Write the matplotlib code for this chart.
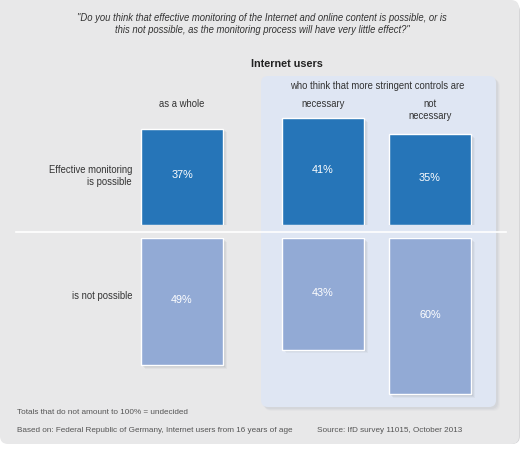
import matplotlib
matplotlib.use("Agg")
import matplotlib.pyplot as plt
from matplotlib.patches import FancyBboxPatch, Rectangle

plt.rcParams["font.family"] = ["Liberation Sans", "DejaVu Sans"]

# data
groups = ["as a whole", "necessary", "not\nnecessary"]
possible = [37, 41, 35]
not_possible = [49, 43, 60]
row_labels = ["Effective monitoring\nis possible", "is not possible"]
question = ('"Do you think that effective monitoring of the Internet and online content is possible, or is\n'
            'this not possible, as the monitoring process will have very little effect?"')
footnote = "Totals that do not amount to 100% = undecided"
basis = "Based on: Federal Republic of Germany, Internet users from 16 years of age"
source = "Source: IfD survey 11015, October 2013"

W, H = 525, 450
BG = "#e8e8e9"
PANEL = "#dfe6f3"
DARK = "#2675b8"
LIGHT = "#92aad5"
TXT = "#333333"
GREY_TXT = "#555555"
FS = 6.85
PX_PER_PCT = 2.6
centers = [182, 323, 430]
bar_w = 82
top_base, bot_base = 225, 238

fig = plt.figure(figsize=(W / 100, H / 100), dpi=100, facecolor="white")
bg = fig.add_axes([0, 0, 1, 1])
bg.set_xlim(0, W)
bg.set_ylim(H, 0)
bg.axis("off")

# card with rounded corners (top-left square)
bg.add_patch(FancyBboxPatch((3, 3), 517, 441, boxstyle="round,pad=0,rounding_size=8",
                            fc="#d6d6d8", ec="none"))
bg.add_patch(FancyBboxPatch((0, 0), 519, 444, boxstyle="round,pad=0,rounding_size=8",
                            fc=BG, ec="none"))
bg.add_patch(Rectangle((0, 0), 30, 30, fc=BG, ec="none"))

# shaded panel with shadow
for off, a in [(4, 0.10), (3, 0.15), (2, 0.2)]:
    bg.add_patch(FancyBboxPatch((261 + off, 76 + off), 235, 331,
                                boxstyle="round,pad=0,rounding_size=7",
                                fc="#b8bcc4", ec="none", alpha=a))
bg.add_patch(FancyBboxPatch((261, 76), 235, 331, boxstyle="round,pad=0,rounding_size=7",
                            fc=PANEL, ec="none"))

# divider
bg.plot([16, 506], [232, 232], color="white", lw=1.2)

# texts
bg.text(262, 24, question, ha="center", va="center", style="italic", fontsize=FS,
        color=TXT, linespacing=1.3)
bg.text(287, 64, "Internet users", ha="center", va="center", fontweight="bold",
        fontsize=7.8, color="#222222")
bg.text(377, 86, "who think that more stringent controls are", ha="center", va="center",
        fontsize=FS, color=TXT)
for cx, g in zip(centers, groups):
    if "\n" in g:
        bg.text(cx, 99, g, ha="center", va="top", fontsize=FS, color=TXT, linespacing=1.2)
    else:
        bg.text(cx, 104, g, ha="center", va="center", fontsize=FS, color=TXT)
bg.text(132, 176, row_labels[0], ha="right", va="center", fontsize=FS, color=TXT,
        linespacing=1.25, multialignment="right")
bg.text(133, 296, row_labels[1], ha="right", va="center", fontsize=FS, color=TXT)
bg.text(17, 412, footnote, ha="left", va="center", fontsize=5.9, color=GREY_TXT)
bg.text(17, 431, basis, ha="left", va="center", fontsize=5.9, color=GREY_TXT)
bg.text(317, 431, source, ha="left", va="center", fontsize=5.9, color=GREY_TXT)

# bar axes
top_span, bot_span = 45, 65
ax_top = fig.add_axes([0, (H - top_base) / H, 1, top_span * PX_PER_PCT / H])
ax_bot = fig.add_axes([0, (H - bot_base - bot_span * PX_PER_PCT) / H, 1,
                       bot_span * PX_PER_PCT / H])
ax_top.set_ylim(0, top_span)
ax_bot.set_ylim(bot_span, 0)


def draw(ax, vals, color, up):
    ax.set_xlim(0, W)
    ax.axis("off")
    ax.patch.set_alpha(0)
    sh = 1.4 / PX_PER_PCT
    for off, a in [(3.5, 0.08), (2.5, 0.12), (1.5, 0.16)]:
        ax.bar([c + off for c in centers], vals, width=bar_w,
               bottom=-off / PX_PER_PCT if up else off / PX_PER_PCT,
               color="#8a8e96", alpha=a, lw=0)
    ax.bar(centers, vals, width=bar_w, color=color, edgecolor="white", lw=1)
    for c, v in zip(centers, vals):
        y = v / 2 + sh if up else v / 2 - sh
        ax.text(c, y, f"{v}%", ha="center", va="center", color="white", fontsize=7.8)


draw(ax_top, possible, DARK, True)
draw(ax_bot, not_possible, LIGHT, False)

fig.savefig("out.png", dpi=100, facecolor="white")
